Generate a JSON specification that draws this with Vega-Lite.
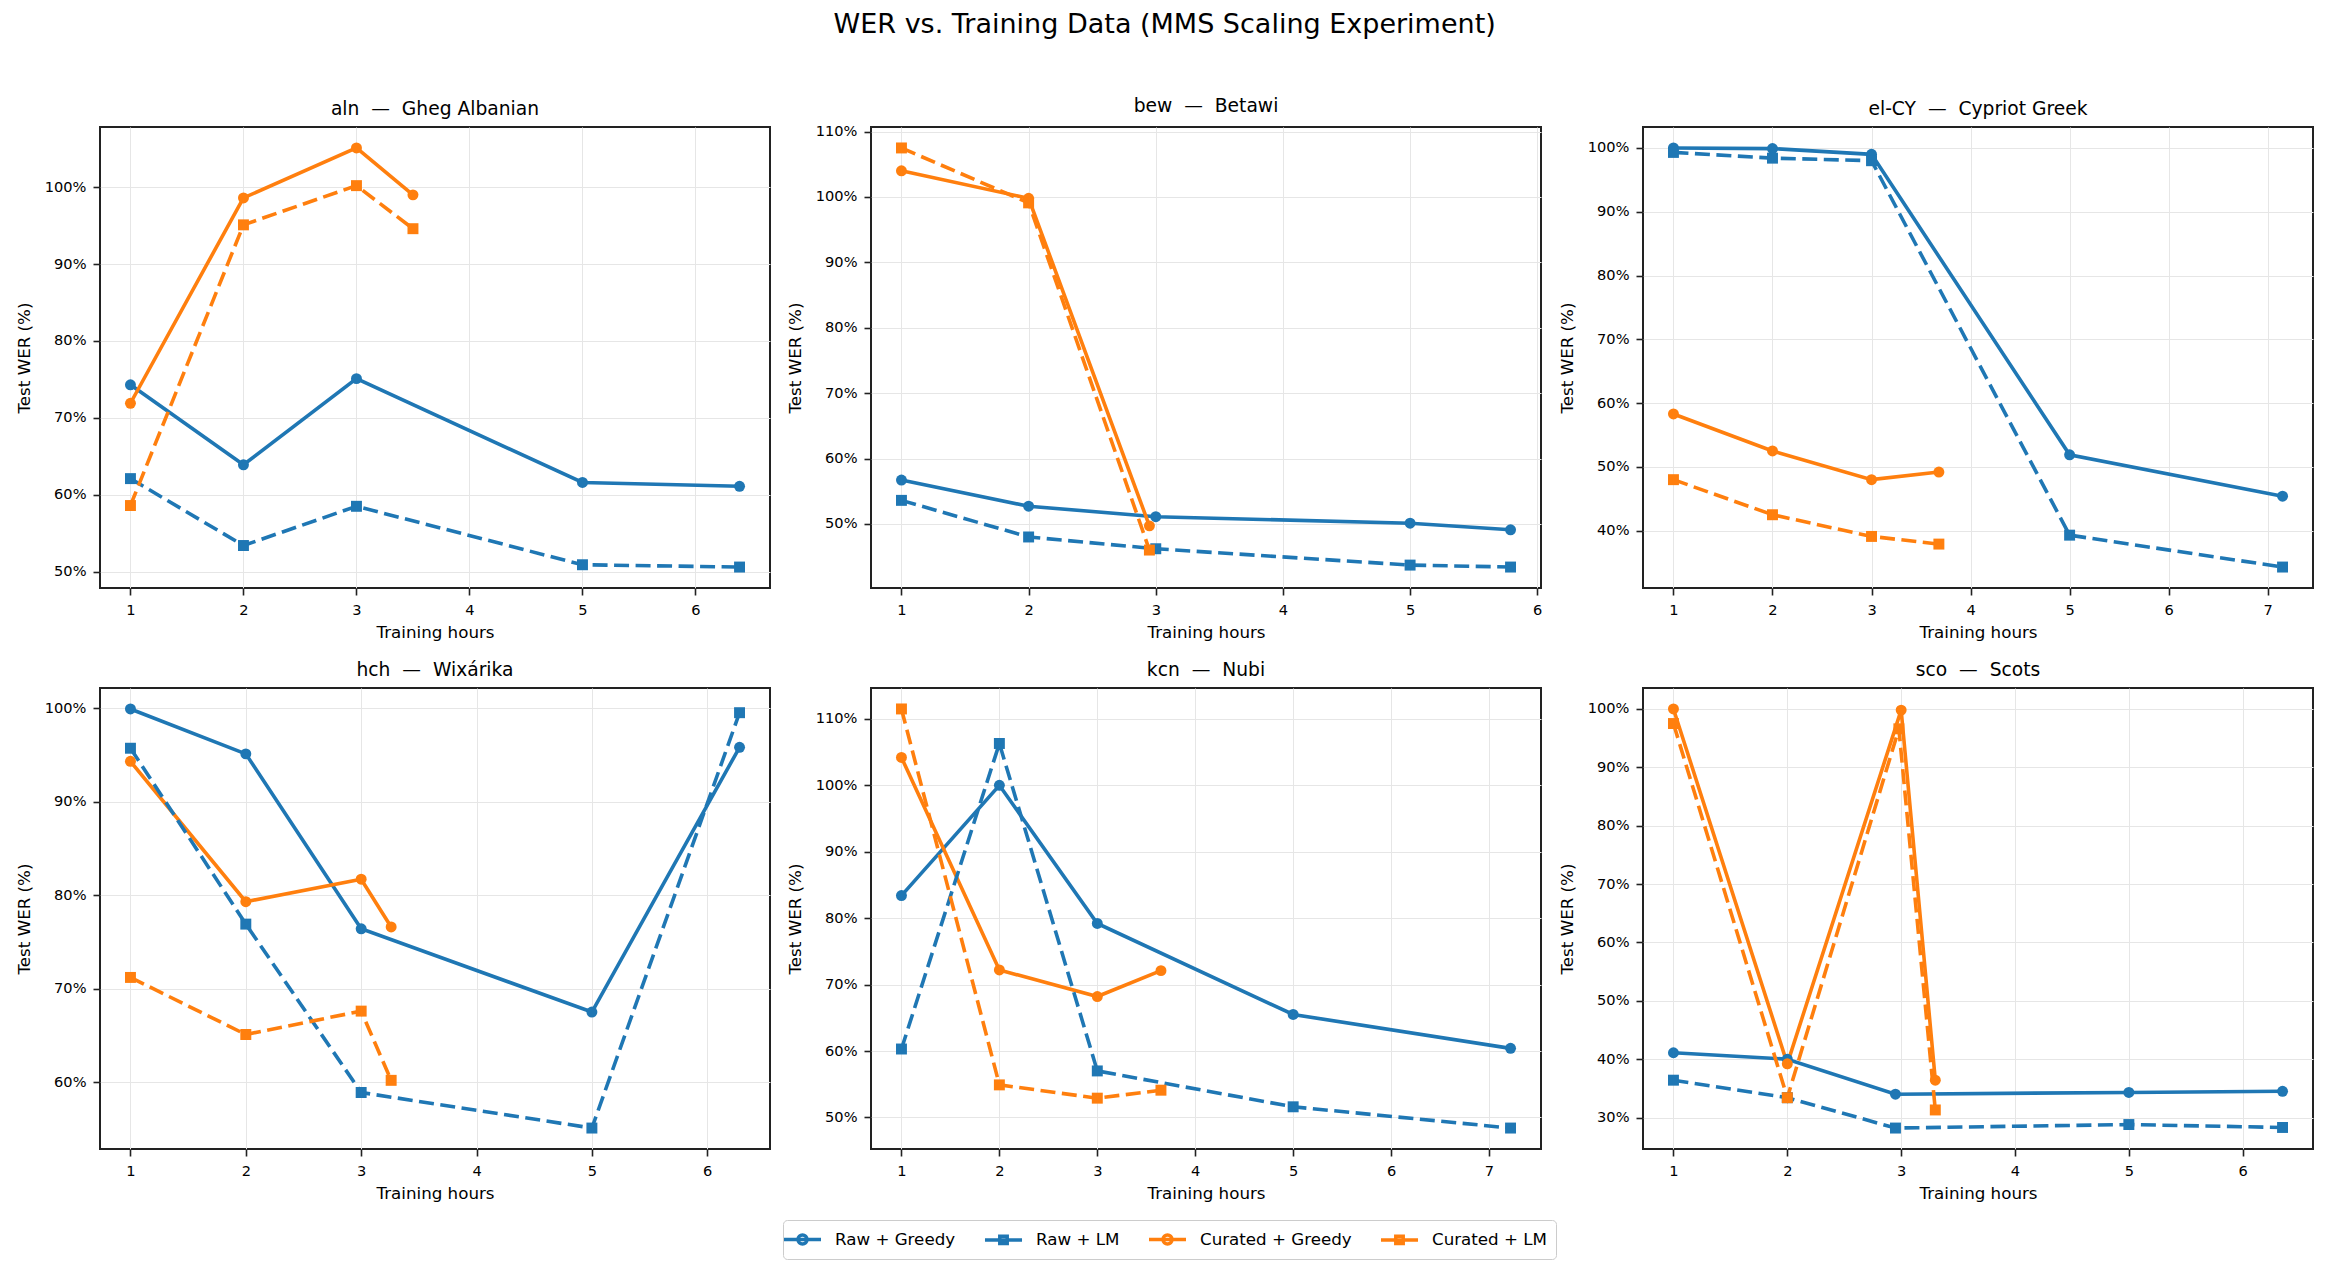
{
  "$schema": "https://vega.github.io/schema/vega-lite/v6.json",
  "padding": {"left": 15, "top": 10, "right": 10, "bottom": 10},
  "background": "white",
  "title": {
    "text": "WER vs. Training Data (MMS Scaling Experiment)",
    "font": "DejaVu Sans",
    "fontSize": 27,
    "fontWeight": "normal",
    "color": "black",
    "anchor": "middle",
    "offset": 57
  },
  "data": {
    "values": [
      {"panel": "aln\u00a0\u00a0—\u00a0\u00a0Gheg Albanian", "series": "Raw + Greedy", "hours": 1, "wer": 74.3},
      {"panel": "aln\u00a0\u00a0—\u00a0\u00a0Gheg Albanian", "series": "Raw + Greedy", "hours": 2, "wer": 63.9},
      {"panel": "aln\u00a0\u00a0—\u00a0\u00a0Gheg Albanian", "series": "Raw + Greedy", "hours": 3, "wer": 75.1},
      {"panel": "aln\u00a0\u00a0—\u00a0\u00a0Gheg Albanian", "series": "Raw + Greedy", "hours": 5, "wer": 61.6},
      {"panel": "aln\u00a0\u00a0—\u00a0\u00a0Gheg Albanian", "series": "Raw + Greedy", "hours": 6.39, "wer": 61.1},
      {"panel": "aln\u00a0\u00a0—\u00a0\u00a0Gheg Albanian", "series": "Raw + LM", "hours": 1, "wer": 62.1},
      {"panel": "aln\u00a0\u00a0—\u00a0\u00a0Gheg Albanian", "series": "Raw + LM", "hours": 2, "wer": 53.4},
      {"panel": "aln\u00a0\u00a0—\u00a0\u00a0Gheg Albanian", "series": "Raw + LM", "hours": 3, "wer": 58.5},
      {"panel": "aln\u00a0\u00a0—\u00a0\u00a0Gheg Albanian", "series": "Raw + LM", "hours": 5, "wer": 50.9},
      {"panel": "aln\u00a0\u00a0—\u00a0\u00a0Gheg Albanian", "series": "Raw + LM", "hours": 6.39, "wer": 50.6},
      {"panel": "aln\u00a0\u00a0—\u00a0\u00a0Gheg Albanian", "series": "Curated + Greedy", "hours": 1, "wer": 71.9},
      {"panel": "aln\u00a0\u00a0—\u00a0\u00a0Gheg Albanian", "series": "Curated + Greedy", "hours": 2, "wer": 98.6},
      {"panel": "aln\u00a0\u00a0—\u00a0\u00a0Gheg Albanian", "series": "Curated + Greedy", "hours": 3, "wer": 105.1},
      {"panel": "aln\u00a0\u00a0—\u00a0\u00a0Gheg Albanian", "series": "Curated + Greedy", "hours": 3.5, "wer": 99.0},
      {"panel": "aln\u00a0\u00a0—\u00a0\u00a0Gheg Albanian", "series": "Curated + LM", "hours": 1, "wer": 58.6},
      {"panel": "aln\u00a0\u00a0—\u00a0\u00a0Gheg Albanian", "series": "Curated + LM", "hours": 2, "wer": 95.1},
      {"panel": "aln\u00a0\u00a0—\u00a0\u00a0Gheg Albanian", "series": "Curated + LM", "hours": 3, "wer": 100.2},
      {"panel": "aln\u00a0\u00a0—\u00a0\u00a0Gheg Albanian", "series": "Curated + LM", "hours": 3.5, "wer": 94.6},

      {"panel": "bew\u00a0\u00a0—\u00a0\u00a0Betawi", "series": "Raw + Greedy", "hours": 1, "wer": 56.7},
      {"panel": "bew\u00a0\u00a0—\u00a0\u00a0Betawi", "series": "Raw + Greedy", "hours": 2, "wer": 52.7},
      {"panel": "bew\u00a0\u00a0—\u00a0\u00a0Betawi", "series": "Raw + Greedy", "hours": 3, "wer": 51.1},
      {"panel": "bew\u00a0\u00a0—\u00a0\u00a0Betawi", "series": "Raw + Greedy", "hours": 5, "wer": 50.1},
      {"panel": "bew\u00a0\u00a0—\u00a0\u00a0Betawi", "series": "Raw + Greedy", "hours": 5.79, "wer": 49.1},
      {"panel": "bew\u00a0\u00a0—\u00a0\u00a0Betawi", "series": "Raw + LM", "hours": 1, "wer": 53.6},
      {"panel": "bew\u00a0\u00a0—\u00a0\u00a0Betawi", "series": "Raw + LM", "hours": 2, "wer": 48.0},
      {"panel": "bew\u00a0\u00a0—\u00a0\u00a0Betawi", "series": "Raw + LM", "hours": 3, "wer": 46.2},
      {"panel": "bew\u00a0\u00a0—\u00a0\u00a0Betawi", "series": "Raw + LM", "hours": 5, "wer": 43.7},
      {"panel": "bew\u00a0\u00a0—\u00a0\u00a0Betawi", "series": "Raw + LM", "hours": 5.79, "wer": 43.4},
      {"panel": "bew\u00a0\u00a0—\u00a0\u00a0Betawi", "series": "Curated + Greedy", "hours": 1, "wer": 104.0},
      {"panel": "bew\u00a0\u00a0—\u00a0\u00a0Betawi", "series": "Curated + Greedy", "hours": 2, "wer": 99.8},
      {"panel": "bew\u00a0\u00a0—\u00a0\u00a0Betawi", "series": "Curated + Greedy", "hours": 2.95, "wer": 49.7},
      {"panel": "bew\u00a0\u00a0—\u00a0\u00a0Betawi", "series": "Curated + LM", "hours": 1, "wer": 107.5},
      {"panel": "bew\u00a0\u00a0—\u00a0\u00a0Betawi", "series": "Curated + LM", "hours": 2, "wer": 99.1},
      {"panel": "bew\u00a0\u00a0—\u00a0\u00a0Betawi", "series": "Curated + LM", "hours": 2.95, "wer": 46.0},

      {"panel": "el-CY\u00a0\u00a0—\u00a0\u00a0Cypriot Greek", "series": "Raw + Greedy", "hours": 1, "wer": 100.0},
      {"panel": "el-CY\u00a0\u00a0—\u00a0\u00a0Cypriot Greek", "series": "Raw + Greedy", "hours": 2, "wer": 99.9},
      {"panel": "el-CY\u00a0\u00a0—\u00a0\u00a0Cypriot Greek", "series": "Raw + Greedy", "hours": 3, "wer": 99.0},
      {"panel": "el-CY\u00a0\u00a0—\u00a0\u00a0Cypriot Greek", "series": "Raw + Greedy", "hours": 5, "wer": 51.9},
      {"panel": "el-CY\u00a0\u00a0—\u00a0\u00a0Cypriot Greek", "series": "Raw + Greedy", "hours": 7.15, "wer": 45.4},
      {"panel": "el-CY\u00a0\u00a0—\u00a0\u00a0Cypriot Greek", "series": "Raw + LM", "hours": 1, "wer": 99.3},
      {"panel": "el-CY\u00a0\u00a0—\u00a0\u00a0Cypriot Greek", "series": "Raw + LM", "hours": 2, "wer": 98.4},
      {"panel": "el-CY\u00a0\u00a0—\u00a0\u00a0Cypriot Greek", "series": "Raw + LM", "hours": 3, "wer": 98.0},
      {"panel": "el-CY\u00a0\u00a0—\u00a0\u00a0Cypriot Greek", "series": "Raw + LM", "hours": 5, "wer": 39.3},
      {"panel": "el-CY\u00a0\u00a0—\u00a0\u00a0Cypriot Greek", "series": "Raw + LM", "hours": 7.15, "wer": 34.3},
      {"panel": "el-CY\u00a0\u00a0—\u00a0\u00a0Cypriot Greek", "series": "Curated + Greedy", "hours": 1, "wer": 58.3},
      {"panel": "el-CY\u00a0\u00a0—\u00a0\u00a0Cypriot Greek", "series": "Curated + Greedy", "hours": 2, "wer": 52.5},
      {"panel": "el-CY\u00a0\u00a0—\u00a0\u00a0Cypriot Greek", "series": "Curated + Greedy", "hours": 3, "wer": 48.0},
      {"panel": "el-CY\u00a0\u00a0—\u00a0\u00a0Cypriot Greek", "series": "Curated + Greedy", "hours": 3.68, "wer": 49.2},
      {"panel": "el-CY\u00a0\u00a0—\u00a0\u00a0Cypriot Greek", "series": "Curated + LM", "hours": 1, "wer": 48.0},
      {"panel": "el-CY\u00a0\u00a0—\u00a0\u00a0Cypriot Greek", "series": "Curated + LM", "hours": 2, "wer": 42.5},
      {"panel": "el-CY\u00a0\u00a0—\u00a0\u00a0Cypriot Greek", "series": "Curated + LM", "hours": 3, "wer": 39.1},
      {"panel": "el-CY\u00a0\u00a0—\u00a0\u00a0Cypriot Greek", "series": "Curated + LM", "hours": 3.68, "wer": 37.9},

      {"panel": "hch\u00a0\u00a0—\u00a0\u00a0Wixárika", "series": "Raw + Greedy", "hours": 1, "wer": 99.9},
      {"panel": "hch\u00a0\u00a0—\u00a0\u00a0Wixárika", "series": "Raw + Greedy", "hours": 2, "wer": 95.1},
      {"panel": "hch\u00a0\u00a0—\u00a0\u00a0Wixárika", "series": "Raw + Greedy", "hours": 3, "wer": 76.4},
      {"panel": "hch\u00a0\u00a0—\u00a0\u00a0Wixárika", "series": "Raw + Greedy", "hours": 5, "wer": 67.5},
      {"panel": "hch\u00a0\u00a0—\u00a0\u00a0Wixárika", "series": "Raw + Greedy", "hours": 6.28, "wer": 95.8},
      {"panel": "hch\u00a0\u00a0—\u00a0\u00a0Wixárika", "series": "Raw + LM", "hours": 1, "wer": 95.7},
      {"panel": "hch\u00a0\u00a0—\u00a0\u00a0Wixárika", "series": "Raw + LM", "hours": 2, "wer": 76.9},
      {"panel": "hch\u00a0\u00a0—\u00a0\u00a0Wixárika", "series": "Raw + LM", "hours": 3, "wer": 58.9},
      {"panel": "hch\u00a0\u00a0—\u00a0\u00a0Wixárika", "series": "Raw + LM", "hours": 5, "wer": 55.1},
      {"panel": "hch\u00a0\u00a0—\u00a0\u00a0Wixárika", "series": "Raw + LM", "hours": 6.28, "wer": 99.5},
      {"panel": "hch\u00a0\u00a0—\u00a0\u00a0Wixárika", "series": "Curated + Greedy", "hours": 1, "wer": 94.3},
      {"panel": "hch\u00a0\u00a0—\u00a0\u00a0Wixárika", "series": "Curated + Greedy", "hours": 2, "wer": 79.3},
      {"panel": "hch\u00a0\u00a0—\u00a0\u00a0Wixárika", "series": "Curated + Greedy", "hours": 3, "wer": 81.7},
      {"panel": "hch\u00a0\u00a0—\u00a0\u00a0Wixárika", "series": "Curated + Greedy", "hours": 3.26, "wer": 76.6},
      {"panel": "hch\u00a0\u00a0—\u00a0\u00a0Wixárika", "series": "Curated + LM", "hours": 1, "wer": 71.2},
      {"panel": "hch\u00a0\u00a0—\u00a0\u00a0Wixárika", "series": "Curated + LM", "hours": 2, "wer": 65.1},
      {"panel": "hch\u00a0\u00a0—\u00a0\u00a0Wixárika", "series": "Curated + LM", "hours": 3, "wer": 67.6},
      {"panel": "hch\u00a0\u00a0—\u00a0\u00a0Wixárika", "series": "Curated + LM", "hours": 3.26, "wer": 60.2},

      {"panel": "kcn\u00a0\u00a0—\u00a0\u00a0Nubi", "series": "Raw + Greedy", "hours": 1, "wer": 83.4},
      {"panel": "kcn\u00a0\u00a0—\u00a0\u00a0Nubi", "series": "Raw + Greedy", "hours": 2, "wer": 100.0},
      {"panel": "kcn\u00a0\u00a0—\u00a0\u00a0Nubi", "series": "Raw + Greedy", "hours": 3, "wer": 79.2},
      {"panel": "kcn\u00a0\u00a0—\u00a0\u00a0Nubi", "series": "Raw + Greedy", "hours": 5, "wer": 65.5},
      {"panel": "kcn\u00a0\u00a0—\u00a0\u00a0Nubi", "series": "Raw + Greedy", "hours": 7.22, "wer": 60.4},
      {"panel": "kcn\u00a0\u00a0—\u00a0\u00a0Nubi", "series": "Raw + LM", "hours": 1, "wer": 60.3},
      {"panel": "kcn\u00a0\u00a0—\u00a0\u00a0Nubi", "series": "Raw + LM", "hours": 2, "wer": 106.3},
      {"panel": "kcn\u00a0\u00a0—\u00a0\u00a0Nubi", "series": "Raw + LM", "hours": 3, "wer": 57.0},
      {"panel": "kcn\u00a0\u00a0—\u00a0\u00a0Nubi", "series": "Raw + LM", "hours": 5, "wer": 51.6},
      {"panel": "kcn\u00a0\u00a0—\u00a0\u00a0Nubi", "series": "Raw + LM", "hours": 7.22, "wer": 48.4},
      {"panel": "kcn\u00a0\u00a0—\u00a0\u00a0Nubi", "series": "Curated + Greedy", "hours": 1, "wer": 104.2},
      {"panel": "kcn\u00a0\u00a0—\u00a0\u00a0Nubi", "series": "Curated + Greedy", "hours": 2, "wer": 72.2},
      {"panel": "kcn\u00a0\u00a0—\u00a0\u00a0Nubi", "series": "Curated + Greedy", "hours": 3, "wer": 68.2},
      {"panel": "kcn\u00a0\u00a0—\u00a0\u00a0Nubi", "series": "Curated + Greedy", "hours": 3.65, "wer": 72.1},
      {"panel": "kcn\u00a0\u00a0—\u00a0\u00a0Nubi", "series": "Curated + LM", "hours": 1, "wer": 111.5},
      {"panel": "kcn\u00a0\u00a0—\u00a0\u00a0Nubi", "series": "Curated + LM", "hours": 2, "wer": 54.9},
      {"panel": "kcn\u00a0\u00a0—\u00a0\u00a0Nubi", "series": "Curated + LM", "hours": 3, "wer": 52.9},
      {"panel": "kcn\u00a0\u00a0—\u00a0\u00a0Nubi", "series": "Curated + LM", "hours": 3.65, "wer": 54.1},

      {"panel": "sco\u00a0\u00a0—\u00a0\u00a0Scots", "series": "Raw + Greedy", "hours": 1, "wer": 41.1},
      {"panel": "sco\u00a0\u00a0—\u00a0\u00a0Scots", "series": "Raw + Greedy", "hours": 2, "wer": 40.0},
      {"panel": "sco\u00a0\u00a0—\u00a0\u00a0Scots", "series": "Raw + Greedy", "hours": 2.95, "wer": 34.0},
      {"panel": "sco\u00a0\u00a0—\u00a0\u00a0Scots", "series": "Raw + Greedy", "hours": 5, "wer": 34.3},
      {"panel": "sco\u00a0\u00a0—\u00a0\u00a0Scots", "series": "Raw + Greedy", "hours": 6.35, "wer": 34.5},
      {"panel": "sco\u00a0\u00a0—\u00a0\u00a0Scots", "series": "Raw + LM", "hours": 1, "wer": 36.4},
      {"panel": "sco\u00a0\u00a0—\u00a0\u00a0Scots", "series": "Raw + LM", "hours": 2, "wer": 33.4},
      {"panel": "sco\u00a0\u00a0—\u00a0\u00a0Scots", "series": "Raw + LM", "hours": 2.95, "wer": 28.2},
      {"panel": "sco\u00a0\u00a0—\u00a0\u00a0Scots", "series": "Raw + LM", "hours": 5, "wer": 28.8},
      {"panel": "sco\u00a0\u00a0—\u00a0\u00a0Scots", "series": "Raw + LM", "hours": 6.35, "wer": 28.3},
      {"panel": "sco\u00a0\u00a0—\u00a0\u00a0Scots", "series": "Curated + Greedy", "hours": 1, "wer": 100.0},
      {"panel": "sco\u00a0\u00a0—\u00a0\u00a0Scots", "series": "Curated + Greedy", "hours": 2, "wer": 39.2},
      {"panel": "sco\u00a0\u00a0—\u00a0\u00a0Scots", "series": "Curated + Greedy", "hours": 3, "wer": 99.8},
      {"panel": "sco\u00a0\u00a0—\u00a0\u00a0Scots", "series": "Curated + Greedy", "hours": 3.3, "wer": 36.4},
      {"panel": "sco\u00a0\u00a0—\u00a0\u00a0Scots", "series": "Curated + LM", "hours": 1, "wer": 97.5},
      {"panel": "sco\u00a0\u00a0—\u00a0\u00a0Scots", "series": "Curated + LM", "hours": 2, "wer": 33.4},
      {"panel": "sco\u00a0\u00a0—\u00a0\u00a0Scots", "series": "Curated + LM", "hours": 2.98, "wer": 96.6},
      {"panel": "sco\u00a0\u00a0—\u00a0\u00a0Scots", "series": "Curated + LM", "hours": 3.3, "wer": 31.3}
    ]
  },
  "facet": {
    "field": "panel",
    "type": "nominal",
    "title": null,
    "header": {
      "labelFont": "DejaVu Sans",
      "labelFontSize": 18.7,
      "labelColor": "black",
      "labelPadding": 8
    }
  },
  "columns": 3,
  "spacing": {"column": 15, "row": 17},
  "resolve": {
    "scale": {"x": "independent", "y": "independent"},
    "axis": {"x": "independent", "y": "independent"}
  },
  "spec": {
    "width": 670,
    "height": 461,
    "encoding": {
      "x": {
        "field": "hours",
        "type": "quantitative",
        "title": "Training hours",
        "scale": {"zero": false, "nice": false, "padding": 30.45},
        "axis": {"tickCount": 6}
      },
      "y": {
        "field": "wer",
        "type": "quantitative",
        "title": "Test WER (%)",
        "scale": {"zero": false, "nice": false, "padding": 20.95},
        "axis": {"tickCount": 6, "labelExpr": "datum.value + '%'"}
      },
      "color": {
        "field": "series",
        "type": "nominal",
        "title": null,
        "scale": {
          "domain": ["Raw + Greedy", "Raw + LM", "Curated + Greedy", "Curated + LM"],
          "range": ["#1f77b4", "#1f77b4", "#ff7f0e", "#ff7f0e"]
        },
        "legend": {
          "title": null,
          "orient": "none",
          "direction": "horizontal",
          "legendX": 683,
          "legendY": 1093,
          "symbolSize": 380,
          "symbolStrokeWidth": 3.5,
          "symbolOpacity": 1,
          "labelOffset": 21,
          "columnPadding": 21,
          "padding": 8,
          "fillColor": "white",
          "strokeColor": "#cccccc",
          "cornerRadius": 4,
          "labelFont": "DejaVu Sans",
          "labelFontSize": 16.7,
          "labelColor": "black"
        }
      }
    },
    "layer": [
      {
        "mark": {"type": "point", "filled": true, "size": 1, "opacity": 0},
        "encoding": {
          "shape": {
            "field": "series",
            "type": "nominal",
            "title": null,
            "scale": {
              "domain": ["Raw + Greedy", "Raw + LM", "Curated + Greedy", "Curated + LM"],
              "range": [
                "M-1.9,0H1.9M0.46,0A0.46,0.46 0 1 1 -0.46,0A0.46,0.46 0 1 1 0.46,0Z",
                "M-1.9,0H1.9M-0.38,-0.38H0.38V0.38H-0.38Z",
                "M-1.9,0H1.9M0.46,0A0.46,0.46 0 1 1 -0.46,0A0.46,0.46 0 1 1 0.46,0Z",
                "M-1.9,0H1.9M-0.38,-0.38H0.38V0.38H-0.38Z"
              ]
            }
          }
        }
      },
      {
        "transform": [{"filter": "indexof(datum.series, 'Greedy') >= 0"}],
        "mark": {"type": "line", "strokeWidth": 3.6}
      },
      {
        "transform": [{"filter": "indexof(datum.series, 'LM') >= 0"}],
        "mark": {"type": "line", "strokeWidth": 3.6, "strokeDash": [15, 6.5]}
      },
      {
        "transform": [{"filter": "indexof(datum.series, 'Greedy') >= 0"}],
        "mark": {"type": "point", "shape": "circle", "filled": true, "size": 120, "opacity": 1}
      },
      {
        "transform": [{"filter": "indexof(datum.series, 'LM') >= 0"}],
        "mark": {"type": "point", "shape": "square", "filled": true, "size": 120, "opacity": 1}
      }
    ]
  },
  "config": {
    "font": "DejaVu Sans",
    "view": {"stroke": "#222222", "strokeWidth": 2},
    "axis": {
      "domain": false,
      "labelFont": "DejaVu Sans",
      "labelFontSize": 14.6,
      "labelColor": "black",
      "labelPadding": 7,
      "titleFont": "DejaVu Sans",
      "titleFontSize": 16.7,
      "titleFontWeight": "normal",
      "titleColor": "black",
      "tickColor": "#222222",
      "tickSize": 7,
      "tickWidth": 1.6,
      "gridColor": "#e6e6e6",
      "gridWidth": 1
    },
    "axisX": {"titlePadding": 8},
    "axisY": {"titlePadding": 11}
  }
}
